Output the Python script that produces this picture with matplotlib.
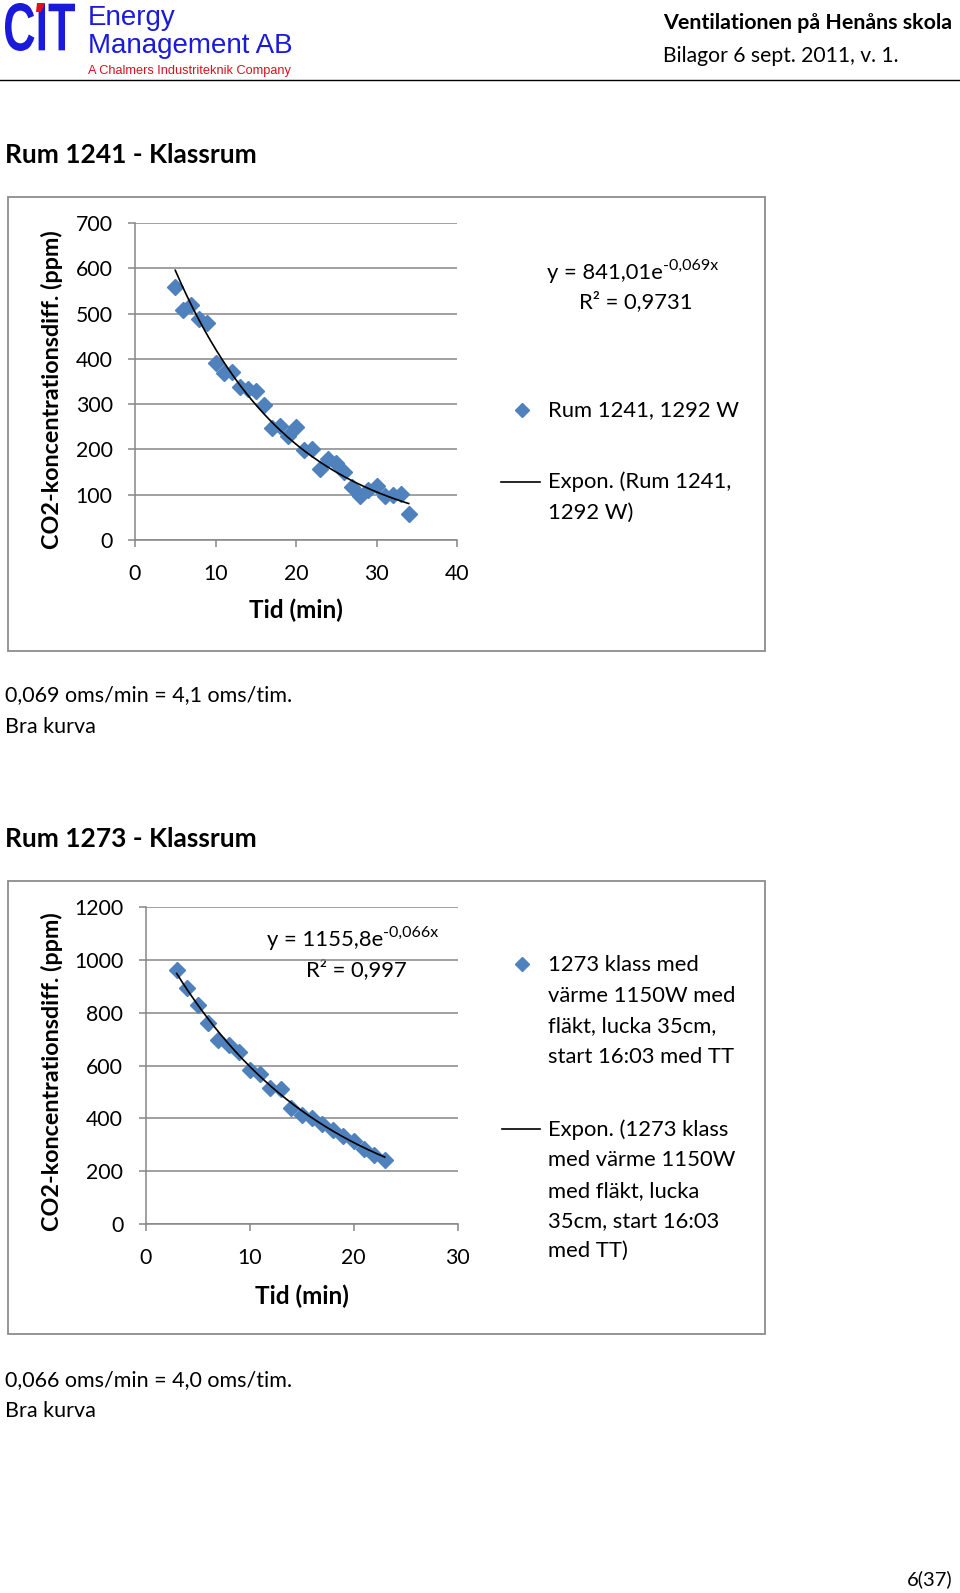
"""Two CO2 decay charts (Rum 1241 and Rum 1273) laid out as a report page."""

import numpy as np
import matplotlib

matplotlib.use("Agg")
import matplotlib.pyplot as plt
from matplotlib.font_manager import FontProperties
from matplotlib.lines import Line2D
from matplotlib.patches import PathPatch, Polygon, Rectangle
from matplotlib.textpath import TextPath
from matplotlib.transforms import Affine2D

plt.rcParams["font.family"] = ["Lato", "DejaVu Sans"]

# --- data ----------------------------------------------------------------
tid_1241 = [5, 6, 7, 8, 9, 10, 11, 12, 13, 14, 15, 16, 17, 18, 19,
            20, 21, 22, 23, 24, 25, 26, 27, 28, 29, 30, 31, 32, 33, 34]
co2_1241 = [559, 507, 520, 489, 479, 390, 368, 370, 338, 333, 330, 299, 247, 251, 229,
            249, 199, 201, 157, 179, 171, 150, 118, 97, 110, 120, 97, 99, 102, 58]
fit_1241 = (841.01, -0.069)

tid_1273 = [3, 4, 5, 6, 7, 8, 9, 10, 11, 12, 13, 14, 15, 16, 17, 18, 19, 20, 21, 22, 23]
co2_1273 = [960, 892, 828, 759, 696, 677, 652, 583, 569, 514, 510, 440, 413, 400, 380,
            354, 335, 314, 285, 263, 241]
fit_1273 = (1155.8, -0.066)

W, H = 960, 1593
BLUE = "#4F81BD"
GRID = "#868686"
TXT = 15.8  # legend / equation text

fig = plt.figure(figsize=(W / 100, H / 100), dpi=100)

# pixel-space overlay for page text and chart frames
bg = fig.add_axes([0, 0, 1, 1], zorder=0)
bg.set_xlim(0, W)
bg.set_ylim(H, 0)
bg.axis("off")


def px_axes(left, top, right, bottom):
    return fig.add_axes([left / W, 1 - bottom / H, (right - left) / W, (bottom - top) / H], zorder=2)


def style_chart(ax, xmax, ymax, ystep, box):
    left, top, right, bottom = box
    ax.set_xlim(0, xmax)
    ax.set_ylim(0, ymax)
    ax.set_xticks(np.arange(0, xmax + 1, 10))
    ax.set_yticks(np.arange(0, ymax + 1, ystep))
    ax.patch.set_alpha(0)
    for s in ("top", "right"):
        ax.spines[s].set_visible(False)
    for s in ("left", "bottom"):
        ax.spines[s].set_color(GRID)
        ax.spines[s].set_linewidth(1.1)
    ax.yaxis.grid(True, color=GRID, lw=1.1)
    ax.set_axisbelow(True)
    ax.tick_params(axis="both", direction="out", length=5, width=1.1, color=GRID,
                   labelsize=15.3, labelcolor="black")
    ax.tick_params(axis="y", pad=11)
    ax.tick_params(axis="x", pad=12.5)
    ax.set_xlabel("Tid (min)", fontsize=17.5, fontweight="bold", va="center")
    ax.set_ylabel("CO2-koncentrationsdiff. (ppm)", fontsize=16.8, fontweight="bold", va="center")
    return right - left, bottom - top


def frame(left, top, right, bottom):
    bg.add_patch(Rectangle((left, top), right - left, bottom - top, fill=False,
                           edgecolor="#8c8c8c", lw=1.3))


def equation(x_e, y_main, base, sup, r2_x, r2_y, r2):
    bg.text(x_e, y_main, base, fontsize=TXT, ha="right", va="center")
    bg.text(x_e, y_main - 7, sup, fontsize=11.5, ha="left", va="center")
    bg.text(r2_x, r2_y, r2, fontsize=TXT, ha="left", va="center")


# --- header ----------------------------------------------------------------
tp = TextPath((0, 0), "CIT", size=100, prop=FontProperties(family="Liberation Sans", weight="bold"))
bb = tp.get_extents()
tr = Affine2D().translate(-bb.x0, -bb.y0).scale(70 / bb.width, -48 / bb.height).translate(5, 51)
bg.add_patch(PathPatch(tr.transform_path(tp), facecolor="#1a1adb", edgecolor="none"))
bg.add_patch(Polygon([(37, 3), (45, 3), (41, 12), (36, 12)], closed=True, facecolor="#e0101a",
                     edgecolor="none"))
bg.text(88, 18, "Energy", fontsize=20, color="#1a1adb", family="Liberation Sans", va="center")
bg.text(88, 46, "Management AB", fontsize=20, color="#1a1adb", family="Liberation Sans", va="center")
bg.text(88, 71, "A Chalmers Industriteknik Company", fontsize=9.2, color="#d81020",
        family="Liberation Sans", va="center")
bg.text(663, 23, "Ventilationen på Henåns skola", fontsize=15.4, fontweight="bold", va="center")
bg.text(663, 56, "Bilagor 6 sept. 2011, v. 1.", fontsize=15.2, va="center")
bg.plot([0, W], [80, 80], color="black", lw=1)

# --- chart 1: Rum 1241 --------------------------------------------------------
bg.text(5, 155, "Rum 1241 - Klassrum", fontsize=19, fontweight="bold", va="center")
frame(8, 197, 765, 651)
box1 = (135, 223, 457, 540)
ax1 = px_axes(*box1)
w1, h1 = style_chart(ax1, 40, 700, 100, box1)
ax1.xaxis.set_label_coords((296 - 135) / w1, (540 - 610) / h1)
ax1.yaxis.set_label_coords((52 - 135) / w1, (540 - 390) / h1)
ax1.plot(tid_1241, co2_1241, ls="none", marker="D", ms=7.8, color=BLUE, mec=BLUE, zorder=3)
xf1 = np.linspace(tid_1241[0], tid_1241[-1], 200)
ax1.plot(xf1, fit_1241[0] * np.exp(fit_1241[1] * xf1), color="black", lw=1.2, zorder=4)

equation(663, 273, "y = 841,01e", "-0,069x", 579, 302, "R² = 0,9731")
bg.add_line(Line2D([522], [410], marker="D", ms=7.5, color=BLUE, ls="none"))
bg.text(548, 410, "Rum 1241, 1292 W", fontsize=TXT, va="center")
bg.plot([501, 540], [482, 482], color="black", lw=1.2)
bg.text(548, 482, "Expon. (Rum 1241,", fontsize=TXT, va="center")
bg.text(548, 513, "1292 W)", fontsize=TXT, va="center")

bg.text(5, 695, "0,069 oms/min = 4,1 oms/tim.", fontsize=15.5, va="center")
bg.text(5, 727, "Bra kurva", fontsize=15.5, va="center")

# --- chart 2: Rum 1273 --------------------------------------------------------
bg.text(5, 839, "Rum 1273 - Klassrum", fontsize=19, fontweight="bold", va="center")
frame(8, 881, 765, 1334)
box2 = (145.5, 907, 457.5, 1224)
ax2 = px_axes(*box2)
w2, h2 = style_chart(ax2, 30, 1200, 200, box2)
ax2.xaxis.set_label_coords((302 - 145.5) / w2, (1224 - 1296) / h2)
ax2.yaxis.set_label_coords((52 - 145.5) / w2, (1224 - 1072) / h2)
ax2.plot(tid_1273, co2_1273, ls="none", marker="D", ms=7.8, color=BLUE, mec=BLUE, zorder=3)
xf2 = np.linspace(tid_1273[0], tid_1273[-1], 200)
ax2.plot(xf2, fit_1273[0] * np.exp(fit_1273[1] * xf2), color="black", lw=1.2, zorder=4)

equation(383, 940, "y = 1155,8e", "-0,066x", 306, 970, "R² = 0,997")
bg.add_line(Line2D([522], [964], marker="D", ms=7.5, color=BLUE, ls="none"))
for i, line in enumerate(["1273 klass med", "värme 1150W med", "fläkt, lucka 35cm,",
                          "start 16:03 med TT"]):
    bg.text(548, 965 + i * 30.7, line, fontsize=TXT, va="center")
bg.plot([502, 540], [1129, 1129], color="black", lw=1.2)
for i, line in enumerate(["Expon. (1273 klass", "med värme 1150W", "med fläkt, lucka",
                          "35cm, start 16:03", "med TT)"]):
    bg.text(548, 1130 + i * 30.3, line, fontsize=TXT, va="center")

bg.text(5, 1380, "0,066 oms/min = 4,0 oms/tim.", fontsize=15.5, va="center")
bg.text(5, 1411, "Bra kurva", fontsize=15.5, va="center")

bg.text(952, 1579, "6(37)", fontsize=14.5, ha="right", va="center")

fig.savefig("out.png", dpi=100)
